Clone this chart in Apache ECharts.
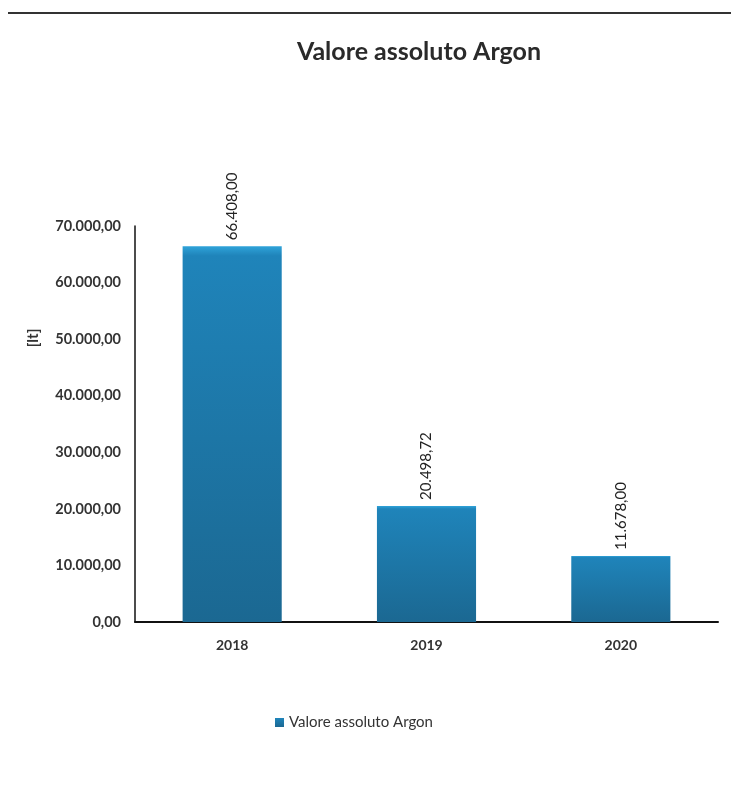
<!DOCTYPE html>
<html>
<head>
<meta charset="utf-8">
<script src="https://cdn.jsdelivr.net/npm/echarts@6/dist/echarts.min.js"></script>
<style>
html,body{margin:0;padding:0;background:#fff;}
#c{width:731px;height:807px;}
</style>
</head>
<body>
<div id="c"></div>
<script>
const categories = ['2018', '2019', '2020'];
const values = [66408.00, 20498.72, 11678.00];
const yTicks = [0, 10000, 20000, 30000, 40000, 50000, 60000, 70000];
const seriesName = 'Valore assoluto Argon';
const yName = '[lt]';

function fmt(v) {
  const parts = v.toFixed(2).split('.');
  const intPart = parts[0].replace(/\B(?=(\d{3})+(?!\d))/g, '.');
  return intPart + ',' + parts[1];
}

const chart = echarts.init(document.getElementById('c'), null, {renderer: 'canvas'});
chart.setOption({
  backgroundColor: '#ffffff',
  animation: false,
  title: {
    text: 'Valore assoluto Argon',
    left: 414, top: 34, textAlign: 'center',
    textStyle: {fontFamily: 'Lato', fontWeight: 'bold', fontSize: 25, color: '#2a2a2a'}
  },
  graphic: [{
    type: 'line', shape: {x1: 8, y1: 13, x2: 731, y2: 13},
    style: {stroke: '#333', lineWidth: 2}
  }, {
    type: 'text', x: 33, y: 338, rotation: Math.PI / 2,
    style: {text: yName, fontFamily: 'Lato', fontWeight: 'bold', fontSize: 15, fill: '#333',
            align: 'center', verticalAlign: 'middle'}
  }],
  legend: {
    data: [seriesName], left: 270, top: 710,
    itemWidth: 9, itemHeight: 9, itemGap: 4, icon: 'rect',
    textStyle: {fontFamily: 'Lato', fontSize: 15, color: '#333'}
  },
  grid: {left: 135, right: 13, top: 226, bottom: 185, containLabel: false},
  xAxis: {
    type: 'category', data: categories,
    axisLine: {lineStyle: {color: '#111', width: 2}},
    axisTick: {show: false},
    axisLabel: {fontFamily: 'Lato', fontWeight: 'bold', fontSize: 14, color: '#333', margin: 16}
  },
  yAxis: {
    type: 'value', min: yTicks[0], max: yTicks[yTicks.length - 1], interval: 10000,
    axisLine: {show: true, lineStyle: {color: '#111', width: 1.5}},
    axisTick: {show: false},
    splitLine: {show: false},
    axisLabel: {fontFamily: 'Lato', fontWeight: 'bold', fontSize: 14.5, color: '#333', margin: 14, formatter: v => fmt(v)}
  },
  series: [{
    name: seriesName, type: 'bar', data: values, barWidth: '51%',
    itemStyle: {
      color: new echarts.graphic.LinearGradient(0, 0, 0, 1, [
        {offset: 0, color: '#2fa3d9'},
        {offset: 0.025, color: '#1f84ba'},
        {offset: 1, color: '#1b6892'}
      ])
    },
    label: {
      show: true, position: 'top', rotate: 90, align: 'left', verticalAlign: 'middle', distance: 6,
      fontFamily: 'Lato', fontSize: 15, color: '#222', formatter: p => fmt(p.value)
    }
  }]
});
</script>
</body>
</html>
